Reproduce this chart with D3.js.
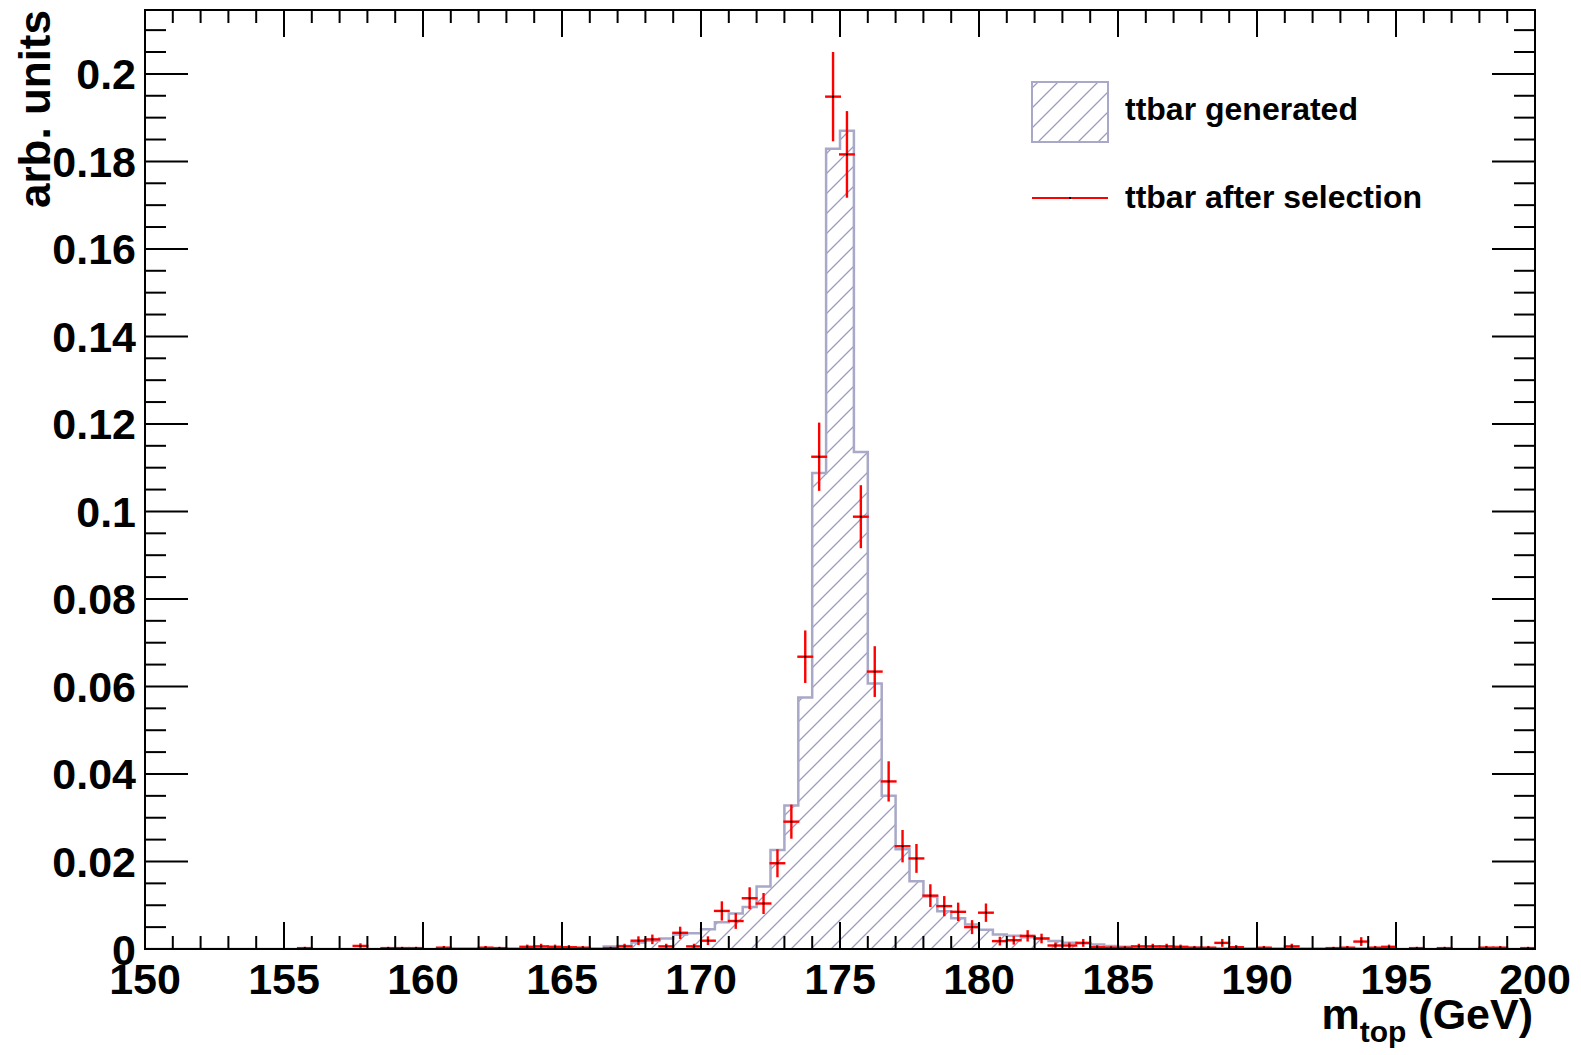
<!DOCTYPE html>
<html>
<head>
<meta charset="utf-8">
<script src="https://cdn.jsdelivr.net/npm/d3@7"></script>
<style>
  html, body { margin: 0; padding: 0; background: #fff; }
  svg text { font-family: "Liberation Sans", Arial, Helvetica, sans-serif; font-weight: bold; fill: #000; }
</style>
</head>
<body>
<svg id="chart" width="1581" height="1055"></svg>
<script>
// ---------------- data ----------------
const binStart = 150, binWidth = 0.5;
// "ttbar generated" histogram contents, 100 bins of 0.5 GeV from 150 to 200
const genValues = [
  0,0,0,0,0,0,0,0,0,0, 0,0,0,0,0,0,0,0,0,0, 0,              // 150.0 - 160.0
  0.0002,0.0002,0.0002,0.0002,0.0002,0.0002,0.0002,0.0002,0.0002,0.0002,0.0002,0.0002, // 160.5 - 166.0
  0.0006,0.0007,0.0015,0.0019,0.0024,0.0033,0.0036,        // 166.5 - 169.5
  0.0045,0.0061,0.0081,0.0096,0.0143,0.0226,0.0328,0.0575, // 170.0 - 173.5
  0.1088,0.1829,0.1870,0.1136,0.0607,0.0350,0.0228,0.0155, // 174.0 - 177.5
  0.0120,0.0086,0.0070,0.0056,0.0044,0.0033,0.0030,0.0027, // 178.0 - 181.5
  0.0024,0.0018,0.0014,0.0013,0.0010,0.0007,0.0005,0.0004, // 182.0 - 185.5
  0.0003,0.0003,0.0003,0.0003,                              // 186.0 - 187.5
  0.0002,0.0002,0.0002,0.0002,0.0002,0.0002,0.0002,0.0002,0.0002,0.0002,0.0002,0.0002,0.0002,0.0002, // 188.0 - 194.5
  0,0,0,0,0,0,0,0,0,0                                        // 195.0 - 199.5
];
// "ttbar after selection" points (bin centres, values, errors)
const selMass = [155.75,157.75,158.75,159.25,159.75,160.75,162.25,162.75,163.75,164.25,164.75,165.25,165.75,166.75,167.25,167.75,168.25,168.75,169.25,169.75,
  170.25,170.75,171.25,171.75,172.25,172.75,173.25,173.75,174.25,174.75,175.25,175.75,176.25,176.75,177.25,177.75,178.25,178.75,179.25,179.75,
  180.25,180.75,181.25,181.75,182.25,182.75,183.25,183.75,184.25,184.75,185.25,185.75,186.25,186.75,187.25,187.75,188.25,188.75,189.25,190.25,
  191.25,192.75,193.25,193.75,194.25,194.75,195.75,196.75,198.25,198.75,199.75];
const selValues = [0.0002,0.0007,0.0002,0.0002,0.0002,0.0003,0.0003,0.0002,0.0005,0.0006,0.0005,0.0004,0.0003,0.0002,0.0006,0.0019,0.0022,0.0006,0.0037,0.0006,
  0.0019,0.0087,0.0064,0.0116,0.0104,0.0196,0.0291,0.0668,0.1125,0.1948,0.1816,0.0988,0.0634,0.0383,0.0235,0.0207,0.0122,0.0098,0.0085,0.0050,
  0.0083,0.0018,0.0020,0.0030,0.0024,0.0008,0.0008,0.0014,0.0004,0.0003,0.0003,0.0006,0.0006,0.0006,0.0005,0.0003,0.0003,0.0014,0.0004,0.0003,
  0.0006,0.0002,0.0003,0.0017,0.0003,0.0005,0.0002,0.0002,0.0003,0.0003,0.0002];
const selErrors = [0.0003,0.0006,0.0003,0.0003,0.0003,0.0004,0.0004,0.0003,0.0005,0.0006,0.0005,0.0005,0.0004,0.0003,0.0006,0.0010,0.0011,0.0006,0.0014,0.0006,
  0.0010,0.0022,0.0018,0.0025,0.0024,0.0032,0.0039,0.0060,0.0078,0.0102,0.0099,0.0072,0.0058,0.0046,0.0037,0.0033,0.0026,0.0023,0.0021,0.0016,
  0.0021,0.0010,0.0010,0.0013,0.0011,0.0007,0.0007,0.0009,0.0005,0.0004,0.0004,0.0006,0.0006,0.0006,0.0005,0.0004,0.0004,0.0009,0.0005,0.0004,
  0.0006,0.0003,0.0004,0.0010,0.0004,0.0005,0.0003,0.0003,0.0004,0.0004,0.0003];
const xTickLabels = ["150","155","160","165","170","175","180","185","190","195","200"];
const yTickLabels = ["0","0.02","0.04","0.06","0.08","0.1","0.12","0.14","0.16","0.18","0.2"];
const legendLabels = ["ttbar generated", "ttbar after selection"];

// ---------------- layout ----------------
const L = 145, R = 1535, T = 10, B = 949;
const svg = d3.select("#chart");
const x = d3.scaleLinear().domain([150, 200]).range([L, R]);
const y = d3.scaleLinear().domain([0, 0.2146]).range([B, T]);

const hatchCol = "#9c9cc0", outlineCol = "#a8a8c8";

// hatch pattern
const defs = svg.append("defs");
const pat = defs.append("pattern").attr("id", "hatch")
  .attr("patternUnits", "userSpaceOnUse").attr("width", 20).attr("height", 20);
pat.append("path").attr("d", "M-5,5 L5,-5 M0,20 L20,0 M15,25 L25,15")
  .attr("stroke", hatchCol).attr("stroke-width", 1.3).attr("fill", "none");
defs.append("clipPath").attr("id", "frameClip").append("rect")
  .attr("x", L).attr("y", T).attr("width", R - L).attr("height", B - T);

// histogram
const histPts = genValues.map((v, i) => ({ m: binStart + i * binWidth, v }));
histPts.push({ m: binStart + genValues.length * binWidth, v: genValues[genValues.length - 1] });
const g = svg.append("g").attr("clip-path", "url(#frameClip)");
g.append("path").datum(histPts)
  .attr("d", d3.area().curve(d3.curveStepAfter).x(d => x(d.m)).y0(y(0)).y1(d => y(d.v)))
  .attr("fill", "url(#hatch)");
g.append("path").datum(histPts)
  .attr("d", d3.line().curve(d3.curveStepAfter).x(d => x(d.m)).y(d => y(d.v)))
  .attr("fill", "none").attr("stroke", outlineCol).attr("stroke-width", 2.5);

// data points with error bars
const pts = selMass.map((m, i) => ({ m, v: selValues[i], e: selErrors[i] }));
const pg = g.append("g");
pg.selectAll("line.h").data(pts).join("line").attr("class", "h")
  .attr("x1", d => x(d.m - binWidth / 2) - 1).attr("x2", d => x(d.m + binWidth / 2) + 1)
  .attr("y1", d => y(d.v)).attr("y2", d => y(d.v))
  .attr("stroke", "#ff0000").attr("stroke-width", 2.4);
pg.selectAll("line.v").data(pts).join("line").attr("class", "v")
  .attr("x1", d => x(d.m)).attr("x2", d => x(d.m))
  .attr("y1", d => y(d.v - d.e)).attr("y2", d => y(d.v + d.e))
  .attr("stroke", "#ff0000").attr("stroke-width", 2.4);
pg.selectAll("rect.c").data(pts).join("rect").attr("class", "c")
  .attr("x", d => x(d.m) - 1).attr("y", d => y(d.v) - 1).attr("width", 2).attr("height", 2)
  .attr("fill", "#000");

// ---------------- axes ----------------
const ax = svg.append("g");
ax.append("rect").attr("x", L).attr("y", T).attr("width", R - L).attr("height", B - T)
  .attr("fill", "none").attr("stroke", "#000").attr("stroke-width", 2);

const xMajor = xTickLabels.map(Number);
const xMinor = d3.range(150, 201, 1).filter(v => v % 5 !== 0);
function tickLines(vals, len, fn) { vals.forEach(v => fn(v, len)); }
function xTick(v, len) {
  ax.append("line").attr("x1", x(v)).attr("x2", x(v)).attr("y1", B).attr("y2", B - len).attr("stroke", "#000").attr("stroke-width", 2);
  ax.append("line").attr("x1", x(v)).attr("x2", x(v)).attr("y1", T).attr("y2", T + len).attr("stroke", "#000").attr("stroke-width", 2);
}
function yTick(v, len) {
  ax.append("line").attr("x1", L).attr("x2", L + len).attr("y1", y(v)).attr("y2", y(v)).attr("stroke", "#000").attr("stroke-width", 2);
  ax.append("line").attr("x1", R).attr("x2", R - len).attr("y1", y(v)).attr("y2", y(v)).attr("stroke", "#000").attr("stroke-width", 2);
}
tickLines(xMajor, 27, xTick);
tickLines(xMinor, 13, xTick);
const yMajor = yTickLabels.map(Number);
const yMinor = d3.range(0, 43).map(i => i * 0.005).filter((v, i) => i % 4 !== 0 && v <= 0.2146);
tickLines(yMajor, 43, yTick);
tickLines(yMinor, 21, yTick);

// tick labels
svg.selectAll("text.xl").data(xTickLabels).join("text").attr("class", "xl")
  .attr("x", d => x(+d)).attr("y", 994).attr("text-anchor", "middle")
  .style("font-size", "43px").text(d => d);
svg.selectAll("text.yl").data(yTickLabels).join("text").attr("class", "yl")
  .attr("x", 136).attr("y", d => y(+d) + 15.5).attr("text-anchor", "end")
  .style("font-size", "43px").text(d => d);

// axis titles
svg.append("text").attr("transform", "translate(50,10) rotate(-90)")
  .attr("text-anchor", "end").style("font-size", "44px").text("arb. units");
const xt = svg.append("text").attr("x", 1533).attr("y", 1029).attr("text-anchor", "end").style("font-size", "43px");
xt.append("tspan").text("m");
xt.append("tspan").attr("dy", 13).style("font-size", "30px").text("top");
xt.append("tspan").attr("dy", -13).text(" (GeV)");

// legend
svg.append("rect").attr("x", 1032).attr("y", 82).attr("width", 76).attr("height", 60)
  .attr("fill", "url(#hatch)").attr("stroke", outlineCol).attr("stroke-width", 2);
svg.append("line").attr("x1", 1032).attr("x2", 1108).attr("y1", 198).attr("y2", 198)
  .attr("stroke", "#ff0000").attr("stroke-width", 2);
svg.append("rect").attr("x", 1069).attr("y", 197).attr("width", 2).attr("height", 2).attr("fill", "#000");
svg.selectAll("text.lg").data(legendLabels).join("text").attr("class", "lg")
  .attr("x", 1125).attr("y", (d, i) => i === 0 ? 120 : 208)
  .style("font-size", "32px").text(d => d);
</script>
</body>
</html>
